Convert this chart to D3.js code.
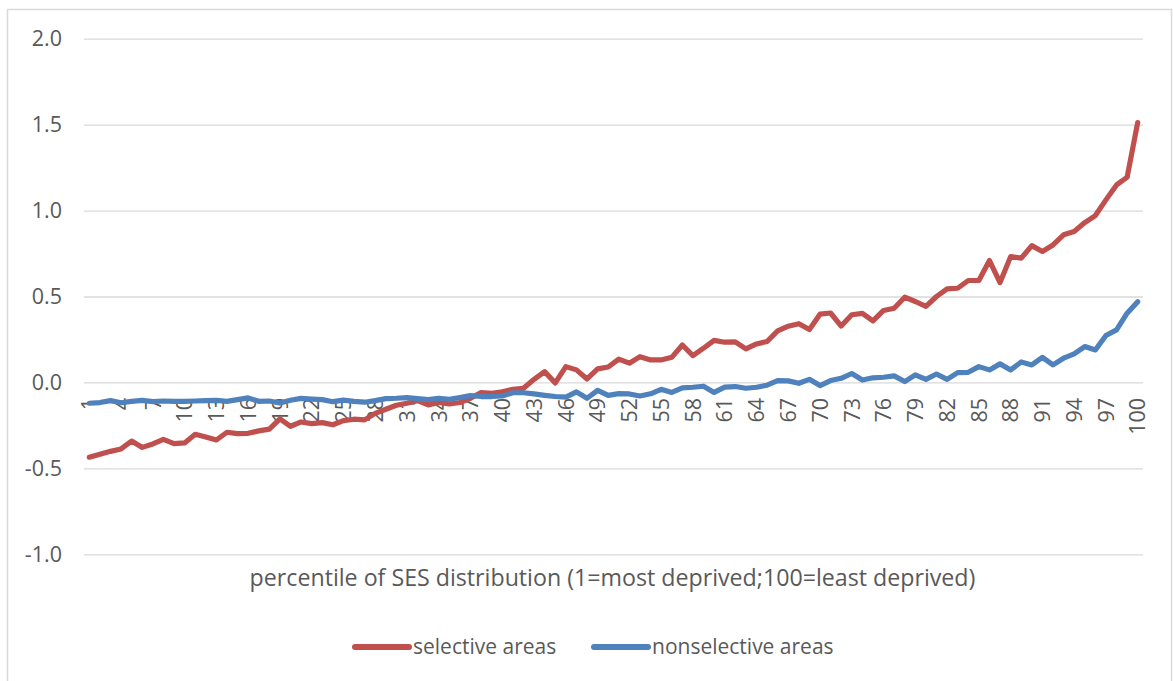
<!DOCTYPE html>
<html>
<head>
<meta charset="utf-8">
<script src="https://cdn.jsdelivr.net/npm/d3@7"></script>
<style>
  html, body { margin: 0; padding: 0; background: #fff; }
  svg { display: block; }
  text { font-family: "Open Sans", "DejaVu Sans", sans-serif; fill: #595959; }
</style>
</head>
<body>
<svg id="chart" width="1173" height="681"></svg>
<script>
// ---- data ----
const percentiles = d3.range(1, 101);
const selectiveAreas = [
  -0.435, -0.418, -0.401, -0.387, -0.341, -0.378, -0.358, -0.331, -0.356, -0.352,
  -0.302, -0.317, -0.335, -0.290, -0.298, -0.296, -0.282, -0.272, -0.212, -0.255,
  -0.230, -0.240, -0.234, -0.246, -0.222, -0.214, -0.218, -0.180, -0.156, -0.133,
  -0.121, -0.106, -0.131, -0.117, -0.125, -0.117, -0.092, -0.059, -0.063, -0.055,
  -0.040, -0.034, 0.018, 0.063, -0.003, 0.092, 0.073, 0.020, 0.079, 0.090,
  0.136, 0.112, 0.150, 0.131, 0.131, 0.146, 0.218, 0.156, 0.199, 0.245,
  0.234, 0.236, 0.195, 0.224, 0.238, 0.300, 0.327, 0.342, 0.308, 0.397,
  0.404, 0.328, 0.394, 0.402, 0.358, 0.419, 0.432, 0.496, 0.471, 0.442,
  0.500, 0.544, 0.548, 0.593, 0.593, 0.709, 0.581, 0.732, 0.723, 0.796,
  0.762, 0.800, 0.859, 0.878, 0.930, 0.971, 1.062, 1.149, 1.194, 1.512
];
const nonselectiveAreas = [
  -0.121, -0.117, -0.106, -0.118, -0.110, -0.104, -0.112, -0.108, -0.110, -0.110,
  -0.108, -0.106, -0.104, -0.110, -0.100, -0.090, -0.110, -0.108, -0.120, -0.104,
  -0.093, -0.097, -0.100, -0.112, -0.103, -0.110, -0.115, -0.106, -0.094, -0.092,
  -0.088, -0.094, -0.100, -0.092, -0.098, -0.088, -0.077, -0.082, -0.082, -0.079,
  -0.060, -0.060, -0.067, -0.075, -0.082, -0.085, -0.055, -0.092, -0.046, -0.075,
  -0.065, -0.067, -0.079, -0.066, -0.040, -0.058, -0.032, -0.028, -0.022, -0.058,
  -0.027, -0.024, -0.034, -0.028, -0.016, 0.010, 0.009, -0.005, 0.018, -0.018,
  0.011, 0.024, 0.052, 0.014, 0.027, 0.030, 0.038, 0.005, 0.044, 0.018,
  0.049, 0.018, 0.057, 0.059, 0.092, 0.073, 0.108, 0.073, 0.119, 0.102,
  0.146, 0.102, 0.141, 0.166, 0.209, 0.189, 0.273, 0.306, 0.403, 0.470
];
const yTicks = [-1.0, -0.5, 0.0, 0.5, 1.0, 1.5, 2.0];
const xTickLabels = percentiles.filter(p => (p - 1) % 3 === 0);
const seriesNames = ["selective areas", "nonselective areas"];
const seriesColors = ["#C0504D", "#4F81BD"];
const xAxisTitle = "percentile of SES distribution (1=most deprived;100=least deprived)";

// ---- layout ----
const svg = d3.select("#chart");
const plot = { left: 84, right: 1143, top: 38.7, bottom: 554.3 };

// frame
svg.append("rect")
  .attr("x", 7.5).attr("y", 9.5)
  .attr("width", 1164).attr("height", 700)
  .attr("fill", "none").attr("stroke", "#D9D9D9").attr("stroke-width", 1.5);

const x = d3.scaleBand().domain(percentiles).range([plot.left, plot.right]).paddingInner(0).paddingOuter(0);
const y = d3.scaleLinear().domain([-1, 2]).range([plot.bottom, plot.top]);
const cx = p => x(p) + x.bandwidth() / 2;
const fmt = v => d3.format(".1f")(v).replace("\u2212", "-");

// y gridlines + labels via axis
const yAxis = d3.axisLeft(y).tickValues(yTicks).tickFormat(fmt)
  .tickSize(-(plot.right - plot.left)).tickPadding(22);
const gy = svg.append("g").attr("transform", `translate(${plot.left},0)`).call(yAxis);
gy.select(".domain").remove();
gy.selectAll(".tick line").attr("stroke", "#D9D9D9").attr("stroke-width", 1.3);
gy.selectAll(".tick text").attr("font-size", 21.5).attr("fill", "#595959")
  .style("font-family", '"Open Sans", sans-serif');

// x tick labels (rotated)
const xAxis = d3.axisBottom(x).tickValues(xTickLabels).tickSize(0).tickPadding(0);
const gx = svg.append("g").attr("transform", `translate(0,${y(0)})`).call(xAxis);
gx.select(".domain").remove();
gx.selectAll(".tick text")
  .attr("font-size", 21.5).attr("fill", "#595959")
  .style("font-family", '"Open Sans", sans-serif')
  .attr("text-anchor", "end")
  .attr("transform", "translate(0,15.5) rotate(-90)")
  .attr("x", 0).attr("y", 0).attr("dy", "0.36em");

// lines
const line = d3.line().x((d, i) => cx(percentiles[i])).y(d => y(d));
[selectiveAreas, nonselectiveAreas].forEach((vals, k) => {
  svg.append("path").datum(vals)
    .attr("d", line)
    .attr("fill", "none")
    .attr("stroke", seriesColors[k])
    .attr("stroke-width", 5.2)
    .attr("stroke-linejoin", "round")
    .attr("stroke-linecap", "round");
});

// x axis title
svg.append("text")
  .attr("x", 612.5).attr("y", 586)
  .attr("text-anchor", "middle")
  .attr("font-size", 23.2)
  .text(xAxisTitle);

// legend
const legendItems = [
  { x1: 355, x2: 409, tx: 413 },
  { x1: 594, x2: 648, tx: 652 }
];
legendItems.forEach((it, k) => {
  svg.append("line")
    .attr("x1", it.x1).attr("x2", it.x2).attr("y1", 647).attr("y2", 647)
    .attr("stroke", seriesColors[k]).attr("stroke-width", 6).attr("stroke-linecap", "round");
  svg.append("text")
    .attr("x", it.tx).attr("y", 647).attr("dy", "0.35em")
    .attr("font-size", 21)
    .text(seriesNames[k]);
});
</script>
</body>
</html>
